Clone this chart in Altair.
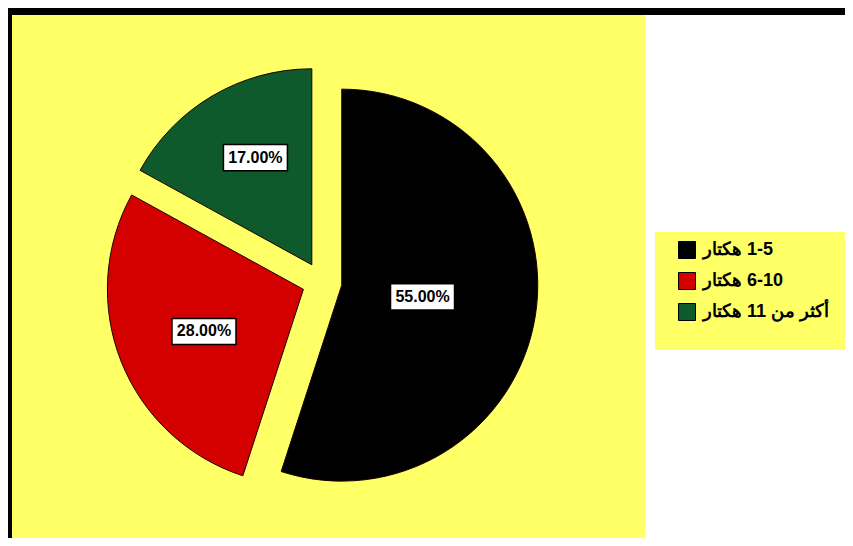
import altair as alt
import pandas as pd

categories = ["\u202b1-5 هكتار\u202c", "\u202b6-10 هكتار\u202c", "\u202bأكثر من 11 هكتار\u202c"]
values = [55, 28, 17]
orders = [1, 2, 3]
colors = ["#000000", "#D40000", "#0F5A2C"]

df = pd.DataFrame({"category": categories, "value": values, "order": orders})

CX, CY, R, D = 310, 267, 196, 20

base = alt.Chart(df).transform_window(
    cum="sum(value)", sort=[alt.SortField("order", order="ascending")], frame=[None, 0]
).transform_joinaggregate(
    total="sum(value)"
).transform_calculate(
    start="(datum.cum - datum.value) / datum.total * 2 * PI",
    end="datum.cum / datum.total * 2 * PI",
).transform_calculate(
    mid="(datum.start + datum.end) / 2",
    half="(datum.end - datum.start) / 2",
).transform_calculate(
    cx=f"{CX} + {D} * sin(datum.mid)",
    cy=f"{CY} - {D} * cos(datum.mid)",
    cent=f"2 * {R} * sin(datum.half) / (3 * datum.half)",
    label="format(datum.value, '.2f') + '%'",
).transform_calculate(
    lx="datum.cx + datum.cent * sin(datum.mid)",
    ly="datum.cy - datum.cent * cos(datum.mid)",
)

color = alt.Color(
    "category:N",
    scale=alt.Scale(domain=categories, range=colors),
    sort=categories,
    legend=alt.Legend(
        title=None,
        orient="none",
        legendX=666,
        legendY=226,
        padding=0,
        symbolType="square",
        symbolSize=289,
        symbolStrokeColor="#000000",
        symbolStrokeWidth=1,
        labelFont="Liberation Sans",
        labelFontWeight="bold",
        labelFontSize=18,
        labelColor="#000000",
        labelOffset=7,
        rowPadding=9,
        labelLimit=300,
    ),
)

arcs = base.mark_arc(radius=R, stroke="#1a0000", strokeWidth=1).encode(
    theta=alt.Theta("start:Q", scale=None),
    theta2="end:Q",
    x=alt.X("cx:Q", scale=None),
    y=alt.Y("cy:Q", scale=None),
    color=color,
)

boxes = base.mark_point(
    shape="M-1,-0.41L1,-0.41L1,0.41L-1,0.41Z",
    size=4096,
    filled=True,
    fill="#FFFFFF",
    stroke="#000000",
    strokeWidth=1.5,
    opacity=1,
    xOffset=7,
).encode(
    x=alt.X("lx:Q", scale=None),
    y=alt.Y("ly:Q", scale=None),
)

labels = base.mark_text(
    font="Liberation Sans", fontWeight="bold", fontSize=16, color="#000000", dx=7
).encode(
    x=alt.X("lx:Q", scale=None),
    y=alt.Y("ly:Q", scale=None),
    text="label:N",
)

legend_box = alt.Chart(df).mark_rect(fill="#FFFF66").encode(
    x=alt.value(643), x2=alt.value(840), y=alt.value(217), y2=alt.value(335)
)
top_band = alt.Chart(df).mark_rect(fill="#000000").encode(
    x=alt.value(-4), x2=alt.value(840), y=alt.value(-7), y2=alt.value(0)
)
left_band = alt.Chart(df).mark_rect(fill="#000000").encode(
    x=alt.value(-4), x2=alt.value(0), y=alt.value(-7), y2=alt.value(530)
)

chart = alt.layer(legend_box, top_band, left_band, arcs, boxes, labels).properties(
    width=633,
    height=523,
    padding={"left": 4, "top": 7, "right": 200, "bottom": 0},
    autosize=alt.AutoSizeParams(type="none"),
    background="#FFFFFF",
).configure_view(fill="#FFFF66", stroke=None)

chart.save("out.html", embed_options={"renderer": "svg", "actions": False})
